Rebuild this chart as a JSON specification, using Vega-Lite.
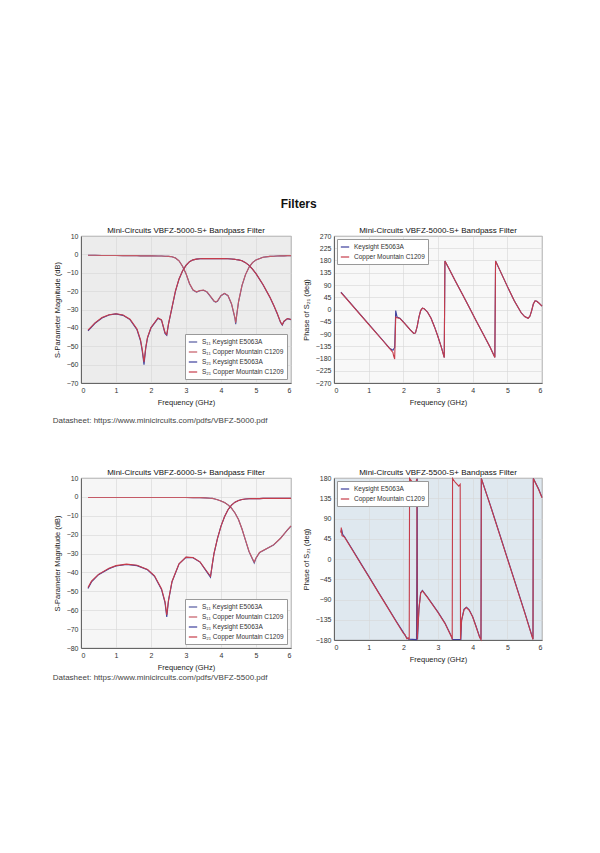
{
  "$schema": "https://vega.github.io/schema/vega-lite/v6.json",
  "background": "white",
  "padding": {"left": 52, "top": 197, "right": 10, "bottom": 10},
  "config": {
    "font": "Liberation Sans",
    "view": {"stroke": "#777", "strokeWidth": 0.8},
    "axis": {"labelFontSize": 7, "titleFontSize": 7.5, "titleFontWeight": "normal", "labelColor": "#333", "titleColor": "#222", "gridColor": "#d6d6d6", "gridWidth": 0.6, "domainColor": "#666", "ticks": false, "labelPadding": 3, "titlePadding": 5},
    "title": {"fontSize": 8, "fontWeight": "normal", "color": "#111", "offset": -3},
    "legend": {"labelFontSize": 6.5, "labelColor": "#333", "symbolType": "stroke", "symbolStrokeWidth": 1.2, "symbolSize": 70, "fillColor": "white", "strokeColor": "#999", "padding": 3, "rowPadding": 1, "labelLimit": 120}
  },
  "title": {"text": "Filters", "fontSize": 12, "fontWeight": "bold", "anchor": "middle", "offset": 16, "color": "#111"},
  "spacing": 43,
  "vconcat": [
    {
      "spacing": 7,
      "title": {"text": "Datasheet: https://www.minicircuits.com/pdfs/VBFZ-5000.pdf", "orient": "bottom", "anchor": "start", "fontSize": 8, "fontWeight": "normal", "color": "#444", "offset": 11},
      "resolve": {"scale": {"color": "independent", "y": "independent"}, "legend": {"color": "independent"}},
      "hconcat": [
        {
          "width": 210, "height": 147,
          "view": {"fill": "#ececec"},
          "title": "Mini-Circuits VBFZ-5000-S+ Bandpass Filter",
          "data": {"values": [
            {"f": 0.2, "k21": -41.6, "r21": -41.2, "k11": -0.5, "r11": -0.5},
            {"f": 0.4, "k21": -37.5, "r21": -37.3, "k11": -0.5, "r11": -0.5},
            {"f": 0.6, "k21": -34.6, "r21": -34.4, "k11": -0.6, "r11": -0.6},
            {"f": 0.8, "k21": -33.0, "r21": -32.9, "k11": -0.6, "r11": -0.6},
            {"f": 1.0, "k21": -32.4, "r21": -32.3, "k11": -0.6, "r11": -0.6},
            {"f": 1.2, "k21": -33.2, "r21": -33.0, "k11": -0.7, "r11": -0.7},
            {"f": 1.4, "k21": -35.5, "r21": -35.3, "k11": -0.7, "r11": -0.7},
            {"f": 1.6, "k21": -41.0, "r21": -40.6, "k11": -0.7, "r11": -0.7},
            {"f": 1.7, "k21": -47.0, "r21": -46.5, "k11": -0.8, "r11": -0.8},
            {"f": 1.75, "k21": -52.5, "r21": -51.8, "k11": -0.8, "r11": -0.8},
            {"f": 1.8, "k21": -60.0, "r21": -58.5, "k11": -0.8, "r11": -0.8},
            {"f": 1.85, "k21": -51.0, "r21": -50.6, "k11": -0.8, "r11": -0.8},
            {"f": 1.9, "k21": -45.5, "r21": -45.2, "k11": -0.8, "r11": -0.8},
            {"f": 2.0, "k21": -40.0, "r21": -39.8, "k11": -0.8, "r11": -0.8},
            {"f": 2.2, "k21": -34.8, "r21": -34.6, "k11": -0.9, "r11": -0.9},
            {"f": 2.3, "k21": -35.8, "r21": -35.6, "k11": -0.9, "r11": -0.9},
            {"f": 2.4, "k21": -43.0, "r21": -42.5, "k11": -1.0, "r11": -1.0},
            {"f": 2.45, "k21": -44.0, "r21": -43.6, "k11": -1.0, "r11": -1.0},
            {"f": 2.5, "k21": -38.0, "r21": -37.8, "k11": -1.1, "r11": -1.1},
            {"f": 2.6, "k21": -29.0, "r21": -28.8, "k11": -1.3, "r11": -1.3},
            {"f": 2.7, "k21": -20.0, "r21": -19.8, "k11": -2.0, "r11": -2.0},
            {"f": 2.8, "k21": -13.5, "r21": -13.4, "k11": -3.5, "r11": -3.5},
            {"f": 2.9, "k21": -9.0, "r21": -9.0, "k11": -6.5, "r11": -6.5},
            {"f": 3.0, "k21": -6.0, "r21": -6.0, "k11": -10.5, "r11": -10.4},
            {"f": 3.1, "k21": -4.0, "r21": -4.0, "k11": -16.0, "r11": -15.8},
            {"f": 3.2, "k21": -3.0, "r21": -3.0, "k11": -19.5, "r11": -19.3},
            {"f": 3.3, "k21": -2.6, "r21": -2.6, "k11": -20.5, "r11": -20.4},
            {"f": 3.4, "k21": -2.4, "r21": -2.4, "k11": -19.8, "r11": -19.7},
            {"f": 3.5, "k21": -2.3, "r21": -2.3, "k11": -19.5, "r11": -19.4},
            {"f": 3.6, "k21": -2.3, "r21": -2.3, "k11": -20.5, "r11": -20.4},
            {"f": 3.7, "k21": -2.3, "r21": -2.3, "k11": -23.0, "r11": -22.8},
            {"f": 3.8, "k21": -2.3, "r21": -2.3, "k11": -25.5, "r11": -25.3},
            {"f": 3.85, "k21": -2.3, "r21": -2.3, "k11": -26.0, "r11": -25.8},
            {"f": 3.9, "k21": -2.3, "r21": -2.3, "k11": -25.5, "r11": -25.3},
            {"f": 4.0, "k21": -2.3, "r21": -2.3, "k11": -22.5, "r11": -22.4},
            {"f": 4.1, "k21": -2.3, "r21": -2.3, "k11": -21.3, "r11": -21.2},
            {"f": 4.2, "k21": -2.4, "r21": -2.4, "k11": -22.5, "r11": -22.4},
            {"f": 4.3, "k21": -2.5, "r21": -2.5, "k11": -27.0, "r11": -26.8},
            {"f": 4.4, "k21": -2.7, "r21": -2.7, "k11": -35.0, "r11": -34.5},
            {"f": 4.42, "k21": -2.8, "r21": -2.8, "k11": -38.0, "r11": -37.2},
            {"f": 4.45, "k21": -2.9, "r21": -2.9, "k11": -33.0, "r11": -32.8},
            {"f": 4.5, "k21": -3.0, "r21": -3.0, "k11": -26.0, "r11": -25.9},
            {"f": 4.6, "k21": -3.5, "r21": -3.5, "k11": -17.0, "r11": -16.9},
            {"f": 4.7, "k21": -4.5, "r21": -4.5, "k11": -11.0, "r11": -11.0},
            {"f": 4.8, "k21": -6.0, "r21": -6.0, "k11": -7.0, "r11": -7.0},
            {"f": 4.9, "k21": -8.0, "r21": -8.0, "k11": -4.5, "r11": -4.5},
            {"f": 5.0, "k21": -10.5, "r21": -10.5, "k11": -3.0, "r11": -3.0},
            {"f": 5.2, "k21": -16.5, "r21": -16.4, "k11": -1.6, "r11": -1.6},
            {"f": 5.4, "k21": -23.5, "r21": -23.4, "k11": -1.1, "r11": -1.1},
            {"f": 5.5, "k21": -27.5, "r21": -27.4, "k11": -1.0, "r11": -1.0},
            {"f": 5.6, "k21": -32.0, "r21": -31.8, "k11": -0.9, "r11": -0.9},
            {"f": 5.7, "k21": -37.0, "r21": -36.8, "k11": -0.8, "r11": -0.8},
            {"f": 5.75, "k21": -38.5, "r21": -38.2, "k11": -0.8, "r11": -0.8},
            {"f": 5.8, "k21": -36.5, "r21": -36.3, "k11": -0.8, "r11": -0.8},
            {"f": 5.9, "k21": -35.0, "r21": -34.9, "k11": -0.7, "r11": -0.7},
            {"f": 6.0, "k21": -35.5, "r21": -35.4, "k11": -0.7, "r11": -0.7}
          ]},
          "transform": [{"fold": ["k11", "r11", "k21", "r21"], "as": ["trace", "db"]}],
          "mark": {"type": "line", "strokeWidth": 1.1},
          "encoding": {
            "x": {"field": "f", "type": "quantitative", "scale": {"domain": [0, 6], "nice": false}, "axis": {"title": "Frequency (GHz)", "values": [0, 1, 2, 3, 4, 5, 6]}},
            "y": {"field": "db", "type": "quantitative", "scale": {"domain": [-70, 10], "nice": false}, "axis": {"title": "S-Parameter Magnitude (dB)", "values": [10, 0, -10, -20, -30, -40, -50, -60, -70]}},
            "color": {"field": "trace", "type": "nominal",
              "scale": {"domain": ["k11", "r11", "k21", "r21"], "range": ["#55599f", "#c45a66", "#3d3f9c", "#c63c4a"]},
              "legend": {"title": null, "orient": "bottom-right", "offset": 4, "labelExpr": "datum.label == 'k11' ? 'S₁₁ Keysight E5063A' : datum.label == 'r11' ? 'S₁₁ Copper Mountain C1209' : datum.label == 'k21' ? 'S₂₁ Keysight E5063A' : 'S₂₁ Copper Mountain C1209'"}}
          }
        },
        {
          "width": 208, "height": 147,
          "view": {"fill": "#f8f8f8"},
          "title": "Mini-Circuits VBFZ-5000-S+ Bandpass Filter",
          "data": {"values": [
            {"f": 0.2, "k": 64, "r": 62},
            {"f": 0.35, "k": 42, "r": 41},
            {"f": 0.5, "k": 20, "r": 19},
            {"f": 0.8, "k": -24, "r": -25},
            {"f": 1.1, "k": -68, "r": -69},
            {"f": 1.4, "k": -112, "r": -113},
            {"f": 1.6, "k": -142, "r": -143},
            {"f": 1.65, "k": -146, "r": -150},
            {"f": 1.7, "k": -150, "r": -158},
            {"f": 1.72, "k": -145, "r": -170},
            {"f": 1.75, "k": -140, "r": -182},
            {"f": 1.78, "k": -4, "r": -28},
            {"f": 1.82, "k": -28, "r": -30},
            {"f": 1.9, "k": -32, "r": -33},
            {"f": 2.0, "k": -45, "r": -46},
            {"f": 2.1, "k": -60, "r": -60},
            {"f": 2.2, "k": -75, "r": -75},
            {"f": 2.3, "k": -88, "r": -88},
            {"f": 2.35, "k": -86, "r": -86},
            {"f": 2.4, "k": -62, "r": -62},
            {"f": 2.45, "k": -28, "r": -28},
            {"f": 2.5, "k": -4, "r": -4},
            {"f": 2.55, "k": 5, "r": 5},
            {"f": 2.6, "k": 3, "r": 3},
            {"f": 2.7, "k": -10, "r": -10},
            {"f": 2.8, "k": -32, "r": -32},
            {"f": 2.9, "k": -64, "r": -64},
            {"f": 3.0, "k": -100, "r": -100},
            {"f": 3.1, "k": -140, "r": -140},
            {"f": 3.18, "k": -176, "r": -177},
            {"f": 3.2, "k": 178, "r": 178},
            {"f": 3.3, "k": 154, "r": 154},
            {"f": 3.5, "k": 105, "r": 105},
            {"f": 3.7, "k": 57, "r": 57},
            {"f": 3.9, "k": 8, "r": 8},
            {"f": 4.1, "k": -41, "r": -41},
            {"f": 4.3, "k": -89, "r": -89},
            {"f": 4.5, "k": -138, "r": -138},
            {"f": 4.64, "k": -175, "r": -176},
            {"f": 4.66, "k": 178, "r": 178},
            {"f": 4.8, "k": 140, "r": 140},
            {"f": 5.0, "k": 85, "r": 85},
            {"f": 5.2, "k": 32, "r": 32},
            {"f": 5.4, "k": -12, "r": -12},
            {"f": 5.5, "k": -26, "r": -26},
            {"f": 5.6, "k": -32, "r": -32},
            {"f": 5.65, "k": -25, "r": -25},
            {"f": 5.7, "k": -5, "r": -5},
            {"f": 5.75, "k": 20, "r": 20},
            {"f": 5.8, "k": 32, "r": 32},
            {"f": 5.85, "k": 30, "r": 30},
            {"f": 5.9, "k": 25, "r": 25},
            {"f": 6.0, "k": 12, "r": 12}
          ]},
          "transform": [{"fold": ["k", "r"], "as": ["trace", "deg"]}],
          "mark": {"type": "line", "strokeWidth": 1.1},
          "encoding": {
            "x": {"field": "f", "type": "quantitative", "scale": {"domain": [0, 6], "nice": false}, "axis": {"title": "Frequency (GHz)", "values": [0, 1, 2, 3, 4, 5, 6]}},
            "y": {"field": "deg", "type": "quantitative", "scale": {"domain": [-270, 270], "nice": false}, "axis": {"title": "Phase of S₂₁ (deg)", "values": [270, 225, 180, 135, 90, 45, 0, -45, -90, -135, -180, -225, -270]}},
            "color": {"field": "trace", "type": "nominal",
              "scale": {"domain": ["k", "r"], "range": ["#3d3f9c", "#c63c4a"]},
              "legend": {"title": null, "orient": "top-left", "offset": 3, "labelExpr": "datum.label == 'k' ? 'Keysight E5063A' : 'Copper Mountain C1209'"}}
          }
        }
      ]
    },
    {
      "spacing": 7,
      "title": {"text": "Datasheet: https://www.minicircuits.com/pdfs/VBFZ-5500.pdf", "orient": "bottom", "anchor": "start", "fontSize": 8, "fontWeight": "normal", "color": "#444", "offset": 3},
      "resolve": {"scale": {"color": "independent", "y": "independent"}, "legend": {"color": "independent"}},
      "hconcat": [
        {
          "width": 210, "height": 170,
          "view": {"fill": "#f6f6f6"},
          "title": "Mini-Circuits VBFZ-6000-S+ Bandpass Filter",
          "data": {"values": [
            {"f": 0.2, "k11": -0.3, "r11": -0.3, "k21": -48.5, "r21": -48.0},
            {"f": 0.3, "k11": -0.3, "r11": -0.3, "k21": -45.0, "r21": -44.6},
            {"f": 0.5, "k11": -0.3, "r11": -0.3, "k21": -41.2, "r21": -41.0},
            {"f": 0.8, "k11": -0.3, "r11": -0.3, "k21": -38.0, "r21": -37.8},
            {"f": 1.0, "k11": -0.3, "r11": -0.3, "k21": -36.6, "r21": -36.4},
            {"f": 1.3, "k11": -0.3, "r11": -0.3, "k21": -35.8, "r21": -35.6},
            {"f": 1.6, "k11": -0.3, "r11": -0.3, "k21": -36.4, "r21": -36.2},
            {"f": 1.9, "k11": -0.3, "r11": -0.3, "k21": -38.6, "r21": -38.4},
            {"f": 2.1, "k11": -0.3, "r11": -0.3, "k21": -42.0, "r21": -41.8},
            {"f": 2.3, "k11": -0.3, "r11": -0.3, "k21": -49.0, "r21": -48.6},
            {"f": 2.4, "k11": -0.3, "r11": -0.3, "k21": -56.0, "r21": -55.4},
            {"f": 2.45, "k11": -0.3, "r11": -0.3, "k21": -63.5, "r21": -62.5},
            {"f": 2.5, "k11": -0.3, "r11": -0.3, "k21": -55.0, "r21": -54.6},
            {"f": 2.6, "k11": -0.3, "r11": -0.3, "k21": -45.0, "r21": -44.8},
            {"f": 2.8, "k11": -0.3, "r11": -0.3, "k21": -35.5, "r21": -35.4},
            {"f": 3.0, "k11": -0.35, "r11": -0.35, "k21": -32.0, "r21": -31.9},
            {"f": 3.2, "k11": -0.4, "r11": -0.4, "k21": -32.2, "r21": -32.1},
            {"f": 3.4, "k11": -0.4, "r11": -0.4, "k21": -34.5, "r21": -34.4},
            {"f": 3.55, "k11": -0.5, "r11": -0.5, "k21": -38.5, "r21": -38.3},
            {"f": 3.7, "k11": -0.7, "r11": -0.7, "k21": -42.5, "r21": -42.0},
            {"f": 3.75, "k11": -0.8, "r11": -0.8, "k21": -36.0, "r21": -35.9},
            {"f": 3.8, "k11": -1.0, "r11": -1.0, "k21": -30.0, "r21": -29.9},
            {"f": 3.9, "k11": -1.5, "r11": -1.5, "k21": -22.0, "r21": -22.0},
            {"f": 4.0, "k11": -2.2, "r11": -2.2, "k21": -15.5, "r21": -15.5},
            {"f": 4.1, "k11": -3.0, "r11": -3.0, "k21": -10.5, "r21": -10.5},
            {"f": 4.2, "k11": -4.2, "r11": -4.2, "k21": -6.8, "r21": -6.8},
            {"f": 4.3, "k11": -6.0, "r11": -6.0, "k21": -4.4, "r21": -4.4},
            {"f": 4.4, "k11": -8.5, "r11": -8.5, "k21": -2.8, "r21": -2.8},
            {"f": 4.5, "k11": -12.0, "r11": -12.0, "k21": -1.9, "r21": -1.9},
            {"f": 4.6, "k11": -17.0, "r11": -17.0, "k21": -1.4, "r21": -1.4},
            {"f": 4.7, "k11": -23.0, "r11": -22.9, "k21": -1.1, "r21": -1.1},
            {"f": 4.8, "k11": -29.0, "r11": -28.8, "k21": -1.0, "r21": -1.0},
            {"f": 4.9, "k11": -33.0, "r11": -32.7, "k21": -0.9, "r21": -0.9},
            {"f": 4.95, "k11": -35.0, "r11": -34.5, "k21": -0.9, "r21": -0.9},
            {"f": 5.0, "k11": -32.5, "r11": -32.3, "k21": -0.9, "r21": -0.9},
            {"f": 5.1, "k11": -29.5, "r11": -29.4, "k21": -0.9, "r21": -0.9},
            {"f": 5.2, "k11": -28.5, "r11": -28.4, "k21": -0.8, "r21": -0.8},
            {"f": 5.3, "k11": -27.5, "r11": -27.4, "k21": -0.8, "r21": -0.8},
            {"f": 5.5, "k11": -25.5, "r11": -25.4, "k21": -0.8, "r21": -0.8},
            {"f": 5.7, "k11": -22.0, "r11": -21.9, "k21": -0.8, "r21": -0.8},
            {"f": 5.9, "k11": -17.5, "r11": -17.4, "k21": -0.8, "r21": -0.8},
            {"f": 6.0, "k11": -15.5, "r11": -15.4, "k21": -0.8, "r21": -0.8}
          ]},
          "transform": [{"fold": ["k11", "r11", "k21", "r21"], "as": ["trace", "db"]}],
          "mark": {"type": "line", "strokeWidth": 1.1},
          "encoding": {
            "x": {"field": "f", "type": "quantitative", "scale": {"domain": [0, 6], "nice": false}, "axis": {"title": "Frequency (GHz)", "values": [0, 1, 2, 3, 4, 5, 6]}},
            "y": {"field": "db", "type": "quantitative", "scale": {"domain": [-80, 10], "nice": false}, "axis": {"title": "S-Parameter Magnitude (dB)", "values": [10, 0, -10, -20, -30, -40, -50, -60, -70, -80]}},
            "color": {"field": "trace", "type": "nominal",
              "scale": {"domain": ["k11", "r11", "k21", "r21"], "range": ["#55599f", "#c45a66", "#3d3f9c", "#c63c4a"]},
              "legend": {"title": null, "orient": "bottom-right", "offset": 4, "labelExpr": "datum.label == 'k11' ? 'S₁₁ Keysight E5063A' : datum.label == 'r11' ? 'S₁₁ Copper Mountain C1209' : datum.label == 'k21' ? 'S₂₁ Keysight E5063A' : 'S₂₁ Copper Mountain C1209'"}}
          }
        },
        {
          "width": 208, "height": 162,
          "view": {"fill": "#dfe8ef"},
          "title": "Mini-Circuits VBFZ-5500-S+ Bandpass Filter",
          "data": {"values": [
            {"f": 0.2, "deg": 60, "trace": "k"}, {"f": 0.22, "deg": 66, "trace": "k"}, {"f": 0.25, "deg": 55, "trace": "k"}, {"f": 0.3, "deg": 50, "trace": "k"},
            {"f": 0.5, "deg": 25, "trace": "k"}, {"f": 0.8, "deg": -13, "trace": "k"}, {"f": 1.0, "deg": -38, "trace": "k"}, {"f": 1.3, "deg": -76, "trace": "k"},
            {"f": 1.5, "deg": -101, "trace": "k"}, {"f": 1.8, "deg": -139, "trace": "k"}, {"f": 2.0, "deg": -163, "trace": "k"}, {"f": 2.05, "deg": -170, "trace": "k"},
            {"f": 2.1, "deg": -175, "trace": "k"}, {"f": 2.15, "deg": -178, "trace": "k"}, {"f": 2.38, "deg": -179, "trace": "k"}, {"f": 2.4, "deg": 179, "trace": "k"},
            {"f": 2.41, "deg": -179, "trace": "k"}, {"f": 2.45, "deg": -110, "trace": "k"}, {"f": 2.5, "deg": -75, "trace": "k"}, {"f": 2.55, "deg": -70, "trace": "k"},
            {"f": 2.7, "deg": -85, "trace": "k"}, {"f": 3.0, "deg": -118, "trace": "k"}, {"f": 3.2, "deg": -142, "trace": "k"}, {"f": 3.4, "deg": -174, "trace": "k"},
            {"f": 3.42, "deg": -179, "trace": "k"}, {"f": 3.66, "deg": -179, "trace": "k"}, {"f": 3.68, "deg": -136, "trace": "k"}, {"f": 3.75, "deg": -112, "trace": "k"},
            {"f": 3.82, "deg": -107, "trace": "k"}, {"f": 3.9, "deg": -113, "trace": "k"}, {"f": 4.0, "deg": -128, "trace": "k"}, {"f": 4.1, "deg": -150, "trace": "k"},
            {"f": 4.2, "deg": -173, "trace": "k"}, {"f": 4.24, "deg": -179, "trace": "k"}, {"f": 4.25, "deg": 179, "trace": "k"}, {"f": 4.5, "deg": 122, "trace": "k"},
            {"f": 4.8, "deg": 50, "trace": "k"}, {"f": 5.0, "deg": 2, "trace": "k"}, {"f": 5.2, "deg": -46, "trace": "k"}, {"f": 5.5, "deg": -118, "trace": "k"},
            {"f": 5.74, "deg": -178, "trace": "k"}, {"f": 5.75, "deg": 179, "trace": "k"}, {"f": 5.9, "deg": 156, "trace": "k"}, {"f": 6.0, "deg": 137, "trace": "k"},
            {"f": 0.2, "deg": 58, "trace": "r"}, {"f": 0.21, "deg": 70, "trace": "r"}, {"f": 0.23, "deg": 52, "trace": "r"}, {"f": 0.3, "deg": 49, "trace": "r"},
            {"f": 0.5, "deg": 24, "trace": "r"}, {"f": 0.8, "deg": -14, "trace": "r"}, {"f": 1.0, "deg": -39, "trace": "r"}, {"f": 1.3, "deg": -77, "trace": "r"},
            {"f": 1.5, "deg": -102, "trace": "r"}, {"f": 1.8, "deg": -140, "trace": "r"}, {"f": 2.0, "deg": -165, "trace": "r"}, {"f": 2.05, "deg": -168, "trace": "r"},
            {"f": 2.1, "deg": -177, "trace": "r"}, {"f": 2.15, "deg": -175, "trace": "r"}, {"f": 2.17, "deg": -179, "trace": "r"}, {"f": 2.18, "deg": 179, "trace": "r"},
            {"f": 2.25, "deg": 172, "trace": "r"}, {"f": 2.32, "deg": 165, "trace": "r"}, {"f": 2.36, "deg": 170, "trace": "r"}, {"f": 2.39, "deg": 178, "trace": "r"},
            {"f": 2.4, "deg": -179, "trace": "r"}, {"f": 2.45, "deg": -112, "trace": "r"}, {"f": 2.5, "deg": -76, "trace": "r"}, {"f": 2.55, "deg": -71, "trace": "r"},
            {"f": 2.7, "deg": -86, "trace": "r"}, {"f": 3.0, "deg": -119, "trace": "r"}, {"f": 3.2, "deg": -143, "trace": "r"}, {"f": 3.4, "deg": -175, "trace": "r"},
            {"f": 3.41, "deg": -179, "trace": "r"}, {"f": 3.42, "deg": 179, "trace": "r"}, {"f": 3.5, "deg": 170, "trace": "r"}, {"f": 3.6, "deg": 162, "trace": "r"},
            {"f": 3.64, "deg": 166, "trace": "r"}, {"f": 3.65, "deg": -179, "trace": "r"}, {"f": 3.68, "deg": -137, "trace": "r"}, {"f": 3.75, "deg": -113, "trace": "r"},
            {"f": 3.82, "deg": -108, "trace": "r"}, {"f": 3.9, "deg": -114, "trace": "r"}, {"f": 4.0, "deg": -129, "trace": "r"}, {"f": 4.1, "deg": -151, "trace": "r"},
            {"f": 4.2, "deg": -174, "trace": "r"}, {"f": 4.24, "deg": -179, "trace": "r"}, {"f": 4.25, "deg": 179, "trace": "r"}, {"f": 4.5, "deg": 121, "trace": "r"},
            {"f": 4.8, "deg": 49, "trace": "r"}, {"f": 5.0, "deg": 1, "trace": "r"}, {"f": 5.2, "deg": -47, "trace": "r"}, {"f": 5.5, "deg": -119, "trace": "r"},
            {"f": 5.74, "deg": -179, "trace": "r"}, {"f": 5.75, "deg": 179, "trace": "r"}, {"f": 5.9, "deg": 155, "trace": "r"}, {"f": 6.0, "deg": 136, "trace": "r"}
          ]},
          "mark": {"type": "line", "strokeWidth": 1.1},
          "encoding": {
            "x": {"field": "f", "type": "quantitative", "scale": {"domain": [0, 6], "nice": false}, "axis": {"title": "Frequency (GHz)", "values": [0, 1, 2, 3, 4, 5, 6]}},
            "y": {"field": "deg", "type": "quantitative", "scale": {"domain": [-180, 180], "nice": false}, "axis": {"title": "Phase of S₂₁ (deg)", "values": [180, 135, 90, 45, 0, -45, -90, -135, -180]}},
            "color": {"field": "trace", "type": "nominal",
              "scale": {"domain": ["k", "r"], "range": ["#3d3f9c", "#c63c4a"]},
              "legend": {"title": null, "orient": "top-left", "offset": 3, "labelExpr": "datum.label == 'k' ? 'Keysight E5063A' : 'Copper Mountain C1209'"}}
          }
        }
      ]
    }
  ]
}
